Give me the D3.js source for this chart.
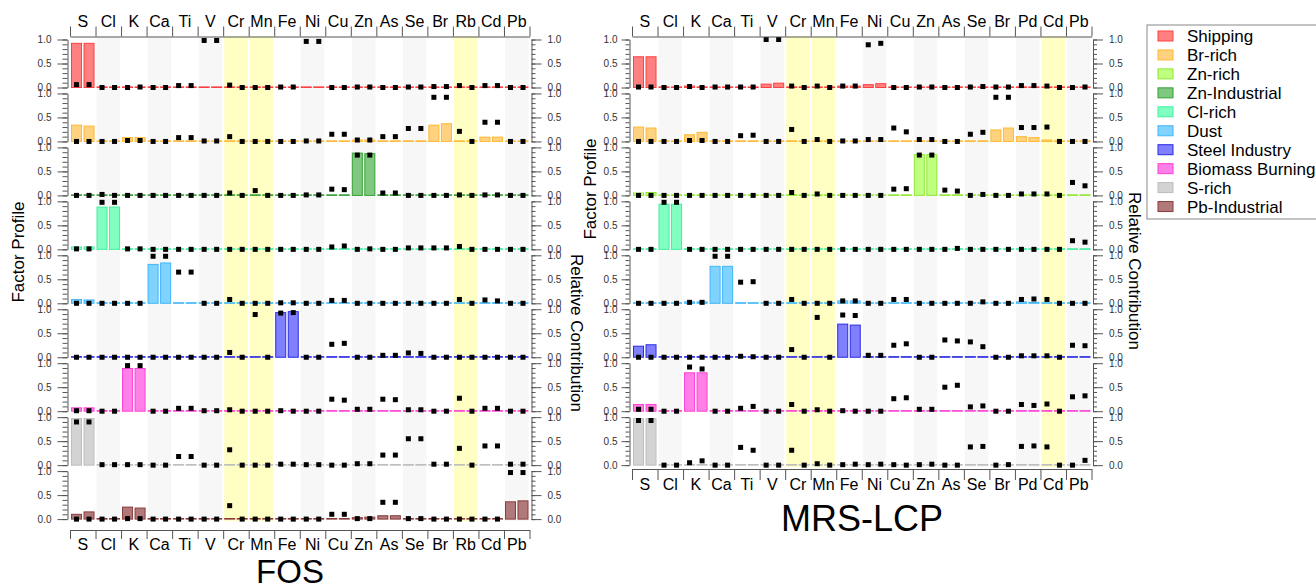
<!DOCTYPE html>
<html>
<head>
<meta charset="utf-8">
<script src="https://cdn.jsdelivr.net/npm/d3@7"></script>
<style>
  body { margin: 0; background: #fff; }
  svg { font-family: "Liberation Sans", Arial, sans-serif; }
  .axis path, .axis line { stroke: #555; }
  .axis text { fill: #333; font-size: 10px; }
</style>
</head>
<body>
<svg id="chart" width="1316" height="585"></svg>
<script>
var fosElements = ["S","Cl","K","Ca","Ti","V","Cr","Mn","Fe","Ni","Cu","Zn","As","Se","Br","Rb","Cd","Pb"];
var mrsElements = ["S","Cl","K","Ca","Ti","V","Cr","Mn","Fe","Ni","Cu","Zn","As","Se","Br","Pd","Cd","Pb"];
var fosHighlight = ["Cr","Mn","Rb"];
var mrsHighlight = ["Cr","Mn","Cd"];

var legendFactors = ["Shipping","Br-rich","Zn-rich","Zn-Industrial","Cl-rich","Dust","Steel Industry","Biomass Burning","S-rich","Pb-Industrial"];
var factorFill   = ["#ff8080","#ffd280","#bfff80","#80c880","#80ffc0","#80d2ff","#8080ff","#ff80e6","#d3d3d3","#b07a7a"];
var factorStroke = ["#ff4040","#ffb833","#8ee833","#33a033","#40f0a0","#40b8f8","#2a2ae6","#ff40d6","#bdbdbd","#8b3a3a"];

var fosFactors = ["Shipping","Br-rich","Zn-Industrial","Cl-rich","Dust","Steel Industry","Biomass Burning","S-rich","Pb-Industrial"];
var mrsFactors = ["Shipping","Br-rich","Zn-rich","Cl-rich","Dust","Steel Industry","Biomass Burning","S-rich"];

var profileTicks = [0, 0.5, 1];
var minorTicks = [0,0.1,0.2,0.3,0.4,0.5,0.6,0.7,0.8,0.9,1];

// factor profile (bars), two values per element
var fosProfile = [
  [[.92,.92],[0,0],[0,0],[0,0],[0,0],[0,0],[0,0],[0,0],[0,0],[0,0],[0,0],[0,0],[0,0],[0,0],[0,0],[0,0],[0,0],[0,0]],
  [[.34,.32],[0,0],[.08,.08],[0,0],[0,0],[0,0],[0,0],[0,0],[0,0],[0,0],[0,0],[.03,.03],[0,0],[0,0],[.34,.37],[0,0],[.09,.09],[0,0]],
  [[0,0],[0,0],[0,0],[0,0],[0,0],[0,0],[0,0],[0,0],[0,0],[0,0],[0,0],[.88,.87],[0,0],[0,0],[0,0],[0,0],[0,0],[0,0]],
  [[.05,.05],[.88,.88],[0,0],[0,0],[0,0],[0,0],[0,0],[0,0],[0,0],[0,0],[0,0],[0,0],[0,0],[0,0],[0,0],[0,0],[0,0],[0,0]],
  [[.08,.07],[0,0],[0,0],[.81,.84],[0,0],[0,0],[0,0],[0,0],[0,0],[0,0],[0,0],[0,0],[0,0],[0,0],[0,0],[0,0],[0,0],[0,0]],
  [[0,0],[0,0],[0,0],[0,0],[0,0],[0,0],[0,0],[0,0],[.93,.95],[0,0],[0,0],[0,0],[0,0],[0,0],[0,0],[0,0],[0,0],[0,0]],
  [[.07,.07],[0,0],[.89,.89],[0,0],[0,0],[0,0],[0,0],[0,0],[0,0],[0,0],[0,0],[0,0],[0,0],[0,0],[0,0],[0,0],[0,0],[0,0]],
  [[.97,.97],[0,0],[0,0],[0,0],[0,0],[0,0],[0,0],[0,0],[0,0],[0,0],[0,0],[0,0],[0,0],[0,0],[0,0],[0,0],[0,0],[0,0]],
  [[.1,.15],[0,0],[.25,.23],[0,0],[0,0],[0,0],[0,0],[0,0],[.01,.01],[0,0],[0,0],[.03,.04],[.07,.07],[0,0],[0,0],[0,0],[0,0],[.36,.38]]
];

// relative contribution (black squares)
var fosContrib = [
  [[.06,.06],[0,0],[0,.01],[0,0],[.04,.04],[.98,.98],[.05,0],[0,0],[.01,.01],[.96,.96],[0,0],[.01,.01],[0,0],[.01,.01],[.02,.02],[.04,0],[.04,.04],[0,0]],
  [[0,0],[0,0],[.02,.02],[0,0],[.08,.08],[.01,.01],[.1,0],[0,0],[0,0],[.01,.01],[.15,.15],[.03,.03],[.1,.1],[.27,.27],[.92,.92],[.21,0],[.4,.4],[0,0]],
  [[0,0],[.02,0],[0,0],[0,0],[0,0],[0,0],[.05,0],[.1,0],[0,0],[.01,.01],[.13,.12],[.84,.84],[.05,.05],[0,0],[0,0],[.01,0],[.01,.01],[0,0]],
  [[.01,.01],[.98,.98],[.01,.01],[0,0],[0,0],[0,0],[0,0],[0,0],[0,0],[0,0],[.05,.07],[0,.01],[0,0],[.03,.03],[.03,.03],[.06,0],[0,0],[0,0]],
  [[0,0],[0,0],[0,0],[.98,.98],[.65,.65],[0,0],[.08,0],[0,0],[.01,.01],[0,0],[.06,.06],[0,0],[0,0],[0,0],[0,0],[.08,0],[.07,.05],[0,0]],
  [[0,0],[0,0],[0,0],[0,0],[0,0],[0,0],[.1,0],[.89,0],[.92,.93],[0,0],[.27,.29],[0,0],[.04,.04],[.09,.08],[0,0],[0,0],[0,0],[0,0]],
  [[.01,.01],[0,0],[.95,.95],[0,0],[.06,.06],[.01,.01],[.03,0],[0,0],[.01,0],[0,0],[.25,.23],[.04,.04],[.25,.24],[.03,.03],[0,0],[.27,0],[.06,.06],[0,0]],
  [[.9,.9],[.01,.01],[.01,.01],[0,0],[.18,.18],[0,0],[.32,0],[0,0],[.02,.02],[.01,.01],[0,0],[.03,.03],[.21,.21],[.55,.55],[.02,.02],[.35,0],[.4,.4],[.02,.02]],
  [[0,0],[0,0],[.01,.01],[0,0],[0,0],[0,0],[.28,0],[0,0],[0,0],[0,0],[.1,.1],[.01,.01],[.35,.35],[.01,.01],[0,0],[0,0],[0,0],[.97,.97]]
];

var mrsProfile = [
  [[.64,.64],[0,0],[.03,0],[0,0],[0,0],[.07,.09],[0,0],[0,0],[.03,.03],[.06,.08],[0,0],[0,0],[0,0],[0,0],[0,0],[0,0],[0,0],[0,0]],
  [[.3,.28],[0,0],[.14,.19],[0,0],[0,0],[0,0],[0,0],[0,0],[0,0],[0,0],[0,0],[0,0],[0,0],[0,0],[.24,.28],[.1,.08],[.03,0],[0,0]],
  [[.05,.06],[0,0],[0,0],[0,0],[0,0],[0,0],[0,0],[0,0],[0,0],[0,0],[0,0],[.85,.85],[0,0],[0,0],[0,0],[0,0],[0,0],[0,0]],
  [[0,0],[.94,.94],[0,0],[0,0],[0,0],[0,0],[0,0],[0,0],[0,0],[0,0],[0,0],[0,0],[0,0],[0,0],[0,0],[0,0],[0,0],[0,0]],
  [[0,0],[0,0],[.03,.03],[.77,.77],[0,0],[0,0],[0,0],[0,0],[.05,.05],[0,0],[0,0],[0,0],[0,0],[0,0],[0,0],[.03,.02],[0,0],[0,0]],
  [[.23,.26],[0,0],[0,0],[0,0],[0,0],[0,0],[0,0],[0,0],[.69,.67],[0,0],[0,0],[0,0],[0,0],[0,0],[0,0],[0,0],[0,0],[0,0]],
  [[.14,.14],[0,0],[.8,.8],[0,0],[0,0],[0,0],[0,0],[0,0],[0,0],[0,0],[0,0],[0,0],[0,0],[0,0],[0,0],[0,0],[0,0],[0,0]],
  [[.97,.97],[0,0],[0,0],[0,0],[0,0],[0,0],[0,0],[0,0],[0,0],[0,0],[0,0],[0,0],[0,0],[0,0],[0,0],[0,0],[0,0],[0,0]]
];

var mrsContrib = [
  [[.01,.01],[0,0],[.02,0],[.01,.01],[.01,.01],[1,1],[.03,0],[.03,0],[.03,.03],[.89,.92],[0,0],[.01,.01],[0,0],[.01,.02],[.01,.01],[.04,.04],[.03,0],[0,.01]],
  [[0,0],[0,0],[.02,.02],[0,0],[.12,.13],[0,0],[.25,0],[.04,0],[.01,.01],[.04,.04],[.28,.2],[.04,.04],[0,0],[.15,.19],[.92,.92],[.29,.29],[.3,0],[0,0]],
  [[0,0],[0,0],[0,0],[0,0],[0,0],[0,0],[.06,0],[.03,0],[0,0],[0,0],[.13,.14],[.84,.84],[.11,.09],[0,.02],[0,0],[.03,.03],[.03,0],[.27,.2]],
  [[0,0],[.98,.98],[0,0],[0,0],[0,0],[0,0],[0,0],[0,0],[0,0],[0,0],[0,0],[0,0],[0,.02],[0,0],[0,0],[0,0],[0,0],[.18,.15]],
  [[0,0],[0,0],[.02,.02],[.98,.98],[.44,.45],[0,0],[.08,0],[0,0],[.05,.05],[0,0],[.08,.08],[0,0],[0,0],[0,.03],[0,0],[.08,.09],[.08,0],[0,0]],
  [[0,0],[0,0],[0,0],[0,0],[.02,.01],[0,0],[.16,0],[.83,0],[.88,.87],[.04,.04],[.25,.28],[0,0],[.36,.34],[.32,.22],[0,0],[.03,.03],[.03,0],[.25,.24]],
  [[.04,.04],[0,0],[.92,.88],[0,0],[.06,.1],[0,0],[.14,0],[.03,0],[.01,0],[0,0],[.26,.28],[.04,.04],[.5,.54],[.09,.11],[0,0],[.14,.12],[.15,0],[.3,.32]],
  [[.93,.93],[0,0],[.05,.09],[0,0],[.37,.31],[0,0],[.31,0],[.03,0],[.01,.02],[.01,.02],[.01,0],[.01,.02],[0,0],[.38,.39],[0,.01],[.39,.4],[.38,0],[0,.1]]
];

var svg = d3.select("#chart");
var firstBase = 87.5, rowStep = 53.95, unitH = 48, topAxisY = 36.5;

function drawPanel(cfg) {
  var g = svg.append("g");
  var x = d3.scaleBand().domain(cfg.elements).range([cfg.x0, cfg.x1]);
  var edge = d3.scaleLinear().domain([0, cfg.elements.length]).range([cfg.x0, cfg.x1]);
  var sub = d3.scaleBand().domain([0, 1]).range([0, x.bandwidth()])
      .paddingInner(0.2).paddingOuter(0.12);
  var nRows = cfg.factors.length;
  var lastBase = firstBase + (nRows - 1) * rowStep;

  // column shading
  g.selectAll("rect.shade")
    .data(cfg.elements)
    .enter().append("rect")
    .attr("x", function(d) { return x(d) + 1; })
    .attr("width", x.bandwidth() - 2)
    .attr("y", topAxisY)
    .attr("height", lastBase + 2 - topAxisY)
    .attr("fill", function(d, i) {
      if (cfg.highlight.indexOf(d) >= 0) return "#ffffc4";
      return i % 2 ? "#f7f7f7" : "none";
    });

  cfg.factors.forEach(function(f, r) {
    var base = firstBase + r * rowStep;
    var y = d3.scaleLinear().domain([0, 1]).range([base, base - unitH]);
    var ci = legendFactors.indexOf(f);
    var bars = [], pts = [];
    cfg.elements.forEach(function(e, i) {
      [0, 1].forEach(function(k) {
        bars.push({e: e, k: k, v: cfg.profile[r][i][k]});
        pts.push({e: e, k: k, v: cfg.contrib[r][i][k]});
      });
    });

    g.append("g").selectAll("rect")
      .data(bars)
      .enter().append("rect")
      .attr("x", function(d) { return x(d.e) + sub(d.k); })
      .attr("width", sub.bandwidth())
      .attr("y", function(d) { return y(0) - Math.max(y(0) - y(d.v), 0.6); })
      .attr("height", function(d) { return Math.max(y(0) - y(d.v), 0.6); })
      .style("fill", factorFill[ci])
      .style("stroke", factorStroke[ci])
      .style("stroke-width", "1px");

    // left axis (factor profile)
    var la = g.append("g").attr("class", "axis")
      .attr("transform", "translate(" + cfg.leftAxisX + ",0)");
    la.call(d3.axisLeft(y).tickValues(minorTicks).tickSize(cfg.leftMinor).tickFormat("").tickSizeOuter(0));
    la.append("g").call(d3.axisLeft(y).tickValues(profileTicks).tickSize(cfg.leftMajor)
      .tickPadding(cfg.leftPad).tickFormat(d3.format(".1f"))).select(".domain").remove();

    // right axis (relative contribution)
    var ra = g.append("g").attr("class", "axis")
      .attr("transform", "translate(" + cfg.rightAxisX + ",0)");
    ra.call(d3.axisRight(y).tickValues(minorTicks).tickSize(4).tickFormat("").tickSizeOuter(0));
    ra.append("g").call(d3.axisRight(y).tickValues(profileTicks).tickSize(10)
      .tickPadding(6).tickFormat(d3.format(".1f"))).select(".domain").remove();

    pts.forEach(function(p) { p.y = y(p.v); });
    cfg.points.push.apply(cfg.points, pts);
  });

  // squares on top of everything
  g.append("g").selectAll("rect")
    .data(cfg.points)
    .enter().append("rect")
    .attr("x", function(d) { return x(d.e) + sub(d.k) + sub.bandwidth() / 2 - 2.5; })
    .attr("y", function(d) { return d.y - 2.5; })
    .attr("width", 5).attr("height", 5)
    .attr("fill", "#000");

  // top element axis
  var ta = g.append("g").attr("class", "axis")
    .attr("transform", "translate(0," + topAxisY + ")");
  ta.call(d3.axisTop(edge).tickValues(d3.range(cfg.elements.length + 1)).tickSize(10).tickFormat("").tickSizeOuter(0));
  g.append("g").attr("transform", "translate(0," + (topAxisY - 9.5) + ")")
    .call(d3.axisTop(x).tickSize(0).tickPadding(0))
    .call(function(s) { s.select(".domain").remove(); })
    .selectAll("text").style("font-size", "16px").style("fill", "#000");

  // bottom element axis
  var ba = g.append("g").attr("class", "axis")
    .attr("transform", "translate(0," + cfg.bottomAxisY + ")");
  ba.call(d3.axisBottom(edge).tickValues(d3.range(cfg.elements.length + 1)).tickSize(cfg.bottomTick).tickFormat("").tickSizeOuter(0));
  g.append("g").attr("transform", "translate(0," + cfg.bottomLabelY + ")")
    .call(d3.axisBottom(x).tickSize(0).tickPadding(0))
    .call(function(s) { s.select(".domain").remove(); })
    .selectAll("text").attr("dy", null).attr("y", 0).style("font-size", "16px").style("fill", "#000");

  // titles
  g.append("text")
    .attr("transform", "translate(" + cfg.profLabel[0] + "," + cfg.profLabel[1] + ") rotate(-90)")
    .attr("text-anchor", "middle").attr("dy", "0.35em")
    .style("font-size", "17px")
    .text("Factor Profile");
  g.append("text")
    .attr("transform", "translate(" + cfg.contLabel[0] + "," + cfg.contLabel[1] + ") rotate(90)")
    .attr("text-anchor", "middle").attr("dy", "0.35em")
    .style("font-size", "17px")
    .text("Relative Contribution");
  g.append("text")
    .attr("x", cfg.title[0]).attr("y", cfg.title[1])
    .attr("text-anchor", "middle")
    .style("font-size", cfg.title[2] + "px")
    .text(cfg.titleText);
}

drawPanel({
  elements: fosElements, highlight: fosHighlight, factors: fosFactors,
  profile: fosProfile, contrib: fosContrib, points: [],
  x0: 70, x1: 529.5, leftAxisX: 67.5, rightAxisX: 531.5,
  leftMajor: 10, leftMinor: 5, leftPad: 6,
  bottomAxisY: 530, bottomTick: 9, bottomLabelY: 549.5,
  profLabel: [18, 252], contLabel: [577, 333],
  title: [290, 583, 33], titleText: "FOS"
});

drawPanel({
  elements: mrsElements, highlight: mrsHighlight, factors: mrsFactors,
  profile: mrsProfile, contrib: mrsContrib, points: [],
  x0: 632, x1: 1091.5, leftAxisX: 629.5, rightAxisX: 1093,
  leftMajor: 8, leftMinor: 4, leftPad: 4,
  bottomAxisY: 469, bottomTick: 11, bottomLabelY: 490,
  profLabel: [590, 189], contLabel: [1135, 271],
  title: [862, 531, 36], titleText: "MRS-LCP"
});

// legend
var lg = svg.append("g").attr("transform", "translate(1147,25)");
lg.append("rect").attr("x", 0).attr("y", 0).attr("width", 175).attr("height", 194)
  .attr("fill", "#fff").attr("stroke", "#888");
var li = lg.selectAll("g.item").data(legendFactors).enter().append("g")
  .attr("transform", function(d, i) { return "translate(0," + (11 + i * 18.95) + ")"; });
li.append("rect").attr("x", 11).attr("y", -5).attr("width", 15).attr("height", 10)
  .attr("fill", function(d, i) { return factorFill[i]; })
  .attr("stroke", function(d, i) { return factorStroke[i]; });
li.append("text").attr("x", 40).attr("y", 6).style("font-size", "17px").text(function(d) { return d; });
</script>
</body>
</html>
